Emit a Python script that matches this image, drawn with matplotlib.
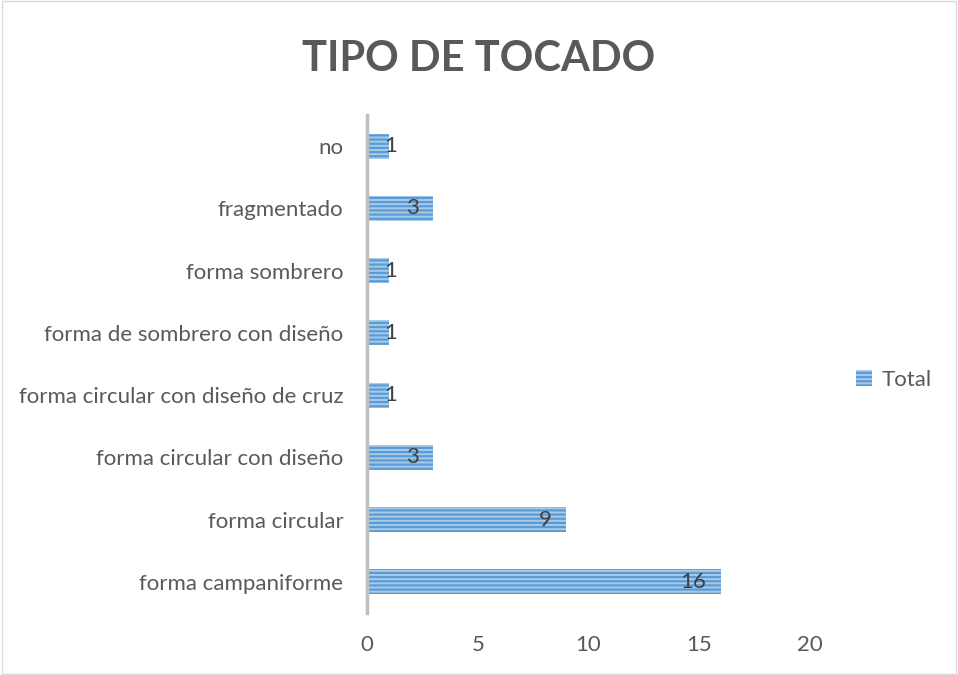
import matplotlib.pyplot as plt
from matplotlib.patches import Rectangle, Patch

categories = ['forma campaniforme', 'forma circular', 'forma circular con diseño',
              'forma circular con diseño de cruz', 'forma de sombrero con diseño',
              'forma sombrero', 'fragmentado', 'no']
totals = [16, 9, 3, 1, 1, 1, 3, 1]
xticks = [0, 5, 10, 15, 20]

plt.rcParams['font.family'] = ['Lato', 'DejaVu Sans']
plt.rcParams['hatch.linewidth'] = 1.6

fig = plt.figure(figsize=(9.58, 6.75), dpi=100)
ax = fig.add_axes([0.3831, 0.0919, 0.4624, 0.7377])

bars = ax.barh(range(len(categories)), totals, height=0.4, color='#A9CBEA',
               edgecolor='#5B9BD5', hatch='----', linewidth=0)
for b, v in zip(bars, totals):
    y = b.get_y() + b.get_height() / 2
    if v > 2:
        ax.annotate(str(v), (v, y), xytext=(-15, 0), textcoords='offset pixels',
                    ha='right', va='center', fontsize=16, color='#404040')
    else:
        ax.annotate(str(v), (v, y), xytext=(1, 0), textcoords='offset pixels',
                    ha='center', va='center', fontsize=16, color='#404040')

ax.set_xlim(0, 20)
ax.set_ylim(-0.5, len(categories) - 0.5)
ax.set_xticks(xticks)
ax.set_yticks(range(len(categories)))
ax.set_yticklabels(categories)
ax.tick_params(axis='both', length=0, labelsize=16, colors='#595959')
ax.tick_params(axis='x', pad=16)
ax.tick_params(axis='y', pad=17)
for s in ['top', 'right', 'bottom']:
    ax.spines[s].set_visible(False)
ax.spines['left'].set_color('#BFBFBF')
ax.spines['left'].set_linewidth(2.5)

fig.text(0.5, 0.913, 'TIPO DE TOCADO', ha='center', va='center',
         fontsize=30, fontweight='bold', color='#595959')

handle = Patch(facecolor='#A9CBEA', edgecolor='#5B9BD5', hatch='----', linewidth=0)
fig.legend([handle], ['Total'], loc='center left', bbox_to_anchor=(0.873, 0.437),
           frameon=False, fontsize=16, labelcolor='#595959',
           handlelength=0.7, handleheight=0.7, handletextpad=0.45)

fig.patches.append(Rectangle((0.002, 0.002), 0.996, 0.996, transform=fig.transFigure,
                             fill=False, edgecolor='#D9D9D9', linewidth=1))

fig.savefig('out.png', dpi=100)
